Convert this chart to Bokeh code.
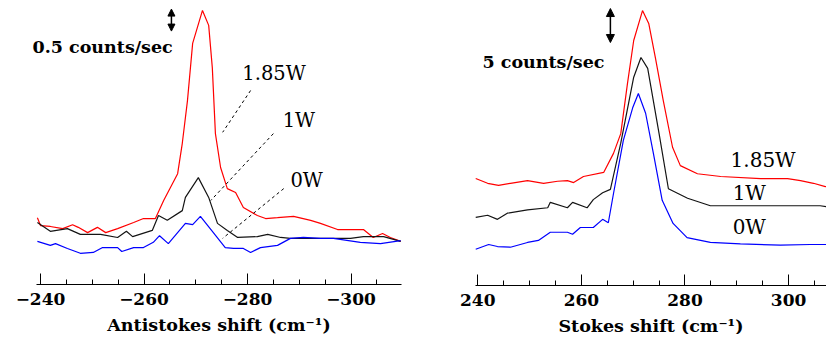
from bokeh.plotting import figure
from bokeh.layouts import row
from bokeh.models import Range1d, FixedTicker, Label, Arrow, NormalHead
from bokeh.embed import file_html
from bokeh.resources import INLINE

# ---------------- data (counts/sec, arbitrary offset) ----------------
# Antistokes panel
as_red_x = [-239.4, -240.0, -241.9, -244.3, -246.2, -247.3, -249.1, -251.0, -252.6, -254.9,
            -258.0, -259.9, -262.2, -263.8, -266.5, -267.4, -268.4, -269.4, -271.3, -272.5,
            -273.2, -273.8, -274.8, -276.1, -277.7, -279.2, -281.9, -283.5, -285.8, -288.9,
            -292.2, -294.1, -297.4, -302.4, -304.3, -306.1, -307.6, -309.6]
as_red_y = [1.36, 1.18, 1.16, 1.11, 1.20, 1.14, 1.02, 1.14, 1.02, 1.11,
            1.25, 1.34, 1.34, 1.75, 2.36, 3.05, 4.02, 5.32, 6.07, 5.73,
            4.77, 3.27, 2.50, 2.02, 1.93, 1.59, 1.41, 1.34, 1.36, 1.39,
            1.30, 1.23, 1.09, 1.09, 0.91, 1.00, 0.91, 0.82]

as_blk_x = [-239.4, -241.9, -245.2, -247.7, -251.6, -254.9, -256.6, -257.8, -261.6, -262.8,
            -264.5, -267.4, -268.0, -270.5, -272.5, -274.2, -276.1, -278.1, -281.9, -283.9,
            -286.4, -288.3, -299.9, -302.4, -306.3, -309.6]
as_blk_y = [1.25, 1.05, 1.11, 0.98, 0.98, 0.91, 1.05, 0.93, 1.07, 1.41,
            1.30, 1.52, 1.82, 2.27, 1.82, 1.23, 1.07, 0.91, 0.93, 0.98,
            0.91, 0.89, 0.89, 0.93, 0.93, 0.82]

as_blu_x = [-239.4, -241.9, -242.9, -245.2, -247.7, -250.2, -252.0, -254.9, -255.7, -258.0,
            -259.9, -261.8, -263.0, -264.7, -268.0, -269.4, -270.9, -273.4, -275.7, -277.3,
            -279.2, -280.6, -282.5, -285.8, -288.3, -290.8, -294.1, -296.6, -301.8, -305.7,
            -309.6]
as_blu_y = [0.82, 0.73, 0.77, 0.66, 0.55, 0.57, 0.68, 0.68, 0.59, 0.68,
            0.68, 0.80, 0.95, 0.77, 1.23, 1.20, 1.39, 1.02, 0.68, 0.66,
            0.66, 0.57, 0.68, 0.73, 0.89, 0.91, 0.89, 0.89, 0.80, 0.77,
            0.84]

# Stokes panel
st_red_x = [239.6, 241.9, 244.0, 246.3, 249.6, 252.7, 255.4, 257.3, 258.5, 260.4,
            264.3, 266.2, 267.6, 268.9, 270.1, 271.8, 273.0, 274.3, 275.8, 277.6,
            279.1, 282.4, 286.9, 294.6, 299.8, 302.3, 304.8, 307.1, 308.7]
st_red_y = [14.7, 14.0, 13.7, 14.0, 14.4, 14.0, 14.3, 14.4, 14.1, 15.0,
            15.6, 18.4, 21.3, 28.7, 35.0, 39.4, 37.5, 32.4, 26.2, 19.3,
            16.6, 15.4, 15.0, 14.7, 14.7, 14.4, 14.0, 13.5, 14.1]

st_blk_x = [239.6, 241.9, 243.8, 245.7, 249.6, 253.5, 254.0, 257.3, 258.3, 261.1,
            262.3, 264.1, 265.6, 267.6, 270.1, 271.5, 272.8, 275.0, 276.8, 280.5,
            284.9, 306.1, 308.7]
st_blk_y = [9.0, 9.3, 8.7, 9.6, 10.1, 10.4, 11.2, 10.4, 11.2, 10.4,
            11.6, 12.6, 13.1, 19.9, 29.6, 32.5, 30.9, 21.3, 13.2, 11.8,
            10.7, 10.7, 10.4]

st_blu_x = [239.6, 242.1, 243.8, 246.3, 249.6, 251.7, 254.0, 257.3, 258.3, 259.8,
            262.3, 264.1, 265.2, 266.2, 268.1, 269.9, 271.0, 272.4, 273.9, 275.6,
            277.7, 280.4, 284.9, 290.7, 298.4, 304.2, 308.7]
st_blu_y = [4.3, 5.0, 4.7, 4.6, 5.3, 5.6, 6.8, 6.8, 6.5, 7.5,
            7.5, 8.7, 8.2, 12.5, 20.3, 25.1, 27.2, 24.3, 18.4, 11.5,
            8.1, 6.0, 5.3, 5.1, 4.9, 5.0, 5.0]

as_major = [-240, -260, -280, -300]
as_minor = [-245, -250, -255, -265, -270, -275, -285, -290, -295, -305]
st_major = [240, 260, 280, 300]
st_minor = [245, 250, 255, 265, 270, 275, 285, 290, 295, 305]

power_labels = ["1.85W", "1W", "0W"]

RED = "#ff0000"
BLK = "#141414"
BLU = "#0000ff"
FONT = "DejaVu Serif"


def style(p, major, minor, label, bounds, loc):
    ax = p.xaxis[0]
    ax.fixed_location = loc
    ax.bounds = bounds
    ax.ticker = FixedTicker(ticks=major, minor_ticks=minor)
    ax.axis_label = label
    ax.axis_label_text_font = FONT
    ax.axis_label_text_font_style = "bold"
    ax.axis_label_text_font_size = "17.5px"
    ax.axis_label_text_color = "black"
    ax.axis_label_standoff = 7
    ax.major_label_text_font = FONT
    ax.major_label_text_font_style = "bold"
    ax.major_label_text_font_size = "17px"
    ax.major_label_text_color = "black"
    ax.major_label_standoff = 8
    ax.major_tick_in = 11
    ax.major_tick_out = 0
    ax.minor_tick_in = 5
    ax.minor_tick_out = 0
    ax.axis_line_color = "black"
    ax.major_tick_line_color = "black"
    ax.minor_tick_line_color = "black"
    p.xgrid.visible = False
    p.ygrid.visible = False
    p.outline_line_color = None
    p.background_fill_color = "white"
    p.border_fill_color = "white"
    p.min_border = 0


# ---------------- left: antistokes ----------------
p1 = figure(width=420, height=334, output_backend="svg", toolbar_location=None,
            x_range=Range1d(-232.27, -313.43), y_range=Range1d(-1.295, 6.295),
            y_axis_location=None,
            min_border_left=0, min_border_right=0, min_border_top=0, min_border_bottom=0)
style(p1, as_major, as_minor, "Antistokes shift (cm\u207b\u00b9)", (-239.23, -309.76), -0.16)
p1.line(as_red_x, as_red_y, line_color=RED, line_width=1.2)
p1.line(as_blk_x, as_blk_y, line_color=BLK, line_width=1.2)
p1.line(as_blu_x, as_blu_y, line_color=BLU, line_width=1.2)

# leader lines
p1.line([-280.6, -275.2], [4.25, 3.30], line_color="black", line_dash="3 3", line_width=1)
p1.line([-285.0, -272.9], [3.27, 1.75], line_color="black", line_dash="3 3", line_width=1)
p1.line([-287.0, -275.2], [2.02, 0.89], line_color="black", line_dash="3 3", line_width=1)

for txt, x, y in zip(power_labels, [-279.0, -286.8, -288.3], [4.64, 3.57, 2.20]):
    p1.add_layout(Label(x=x, y=y, text=txt, text_font=FONT, text_font_size="19.5px",
                        text_baseline="middle", text_align="left", text_color="black"))
p1.add_layout(Label(x=-238.45, y=5.23, text="0.5 counts/sec", text_font=FONT,
                    text_font_style="bold", text_font_size="17.5px", text_baseline="middle",
                    text_align="left", text_color="black"))
p1.add_layout(Arrow(x_start=-265.3, y_start=5.6, x_end=-265.3, y_end=6.1,
                    line_width=1.5, line_color="black",
                    start=NormalHead(size=7, fill_color="black", line_color="black"),
                    end=NormalHead(size=7, fill_color="black", line_color="black")))

# ---------------- right: stokes ----------------
p2 = figure(width=406, height=334, output_backend="svg", toolbar_location=None,
            x_range=Range1d(228.94, 307.32), y_range=Range1d(-8.235, 40.88),
            y_axis_location=None,
            min_border_left=0, min_border_right=0, min_border_top=0, min_border_bottom=0)
style(p2, st_major, st_minor, "Stokes shift (cm\u207b\u00b9)", (239.56, 308.86), -1.03)
p2.line(st_red_x, st_red_y, line_color=RED, line_width=1.2)
p2.line(st_blk_x, st_blk_y, line_color=BLK, line_width=1.2)
p2.line(st_blu_x, st_blu_y, line_color=BLU, line_width=1.2)

for txt, x, y in zip(power_labels, [288.8, 289.2, 289.2], [17.4, 12.6, 7.6]):
    p2.add_layout(Label(x=x, y=y, text=txt, text_font=FONT, text_font_size="20px",
                        text_baseline="middle", text_align="left", text_color="black"))
p2.add_layout(Label(x=240.9, y=31.9, text="5 counts/sec", text_font=FONT,
                    text_font_style="bold", text_font_size="17.5px", text_baseline="middle",
                    text_align="left", text_color="black"))
p2.add_layout(Arrow(x_start=265.6, y_start=34.7, x_end=265.6, y_end=39.7,
                    line_width=1.5, line_color="black",
                    start=NormalHead(size=8, fill_color="black", line_color="black"),
                    end=NormalHead(size=8, fill_color="black", line_color="black")))

layout = row(p1, p2)
open("out.html", "w").write(file_html(layout, INLINE))
